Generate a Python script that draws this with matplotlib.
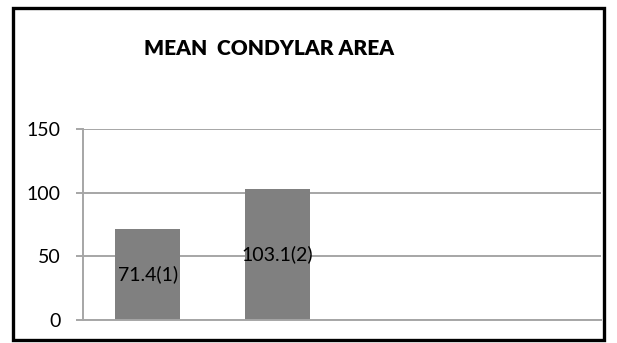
import matplotlib.pyplot as plt
from matplotlib.patches import Rectangle

# mean condylar area per group, the last two slots are left empty
slots = [1, 2, 3, 4]
bar_slots = [1, 2]
mean_area = [71.4, 103.1]
bar_labels = ['71.4(1)', '103.1(2)']
y_ticks = [0, 50, 100, 150]

plt.rcParams['font.family'] = ['Lato', 'DejaVu Sans']

fig = plt.figure(figsize=(6.17, 3.43), dpi=100)
ax = fig.add_axes([0.1345, 0.067, 0.8395, 0.557])

grid_grey = '#a6a6a6'
bars = ax.bar(bar_slots, mean_area, width=0.5, color='#808080', zorder=2)

# value labels sit in the middle of each bar
for rect, text in zip(bars, bar_labels):
   ax.text(rect.get_x() + rect.get_width() / 2, rect.get_height() / 2, text,
           ha='center', va='center', fontsize=14, color='black', zorder=3)

ax.set_xlim(slots[0] - 0.5, slots[-1] + 0.5)
ax.set_ylim(0, 150)
ax.set_yticks(y_ticks)
ax.set_xticks([])
ax.yaxis.grid(True, color=grid_grey, linewidth=1.4, zorder=0)
ax.set_axisbelow(True)

for side in ['top', 'right']:
   ax.spines[side].set_visible(False)
ax.spines['left'].set_color(grid_grey)
ax.spines['bottom'].set_color(grid_grey)
ax.spines['left'].set_linewidth(1.4)
ax.spines['bottom'].set_linewidth(1.4)
ax.tick_params(axis='y', length=5, width=1.4, color=grid_grey, pad=11,
               labelsize=14)

fig.text(0.436, 0.86, 'MEAN  CONDYLAR AREA', ha='center', va='center',
         fontsize=15, fontweight='heavy')

# black frame around the whole chart
fig.patches.append(Rectangle((0.021, 0.008), 0.958, 0.968, transform=fig.transFigure,
                             fill=False, edgecolor='black', linewidth=2.4))

fig.savefig('out.png', dpi=100)
